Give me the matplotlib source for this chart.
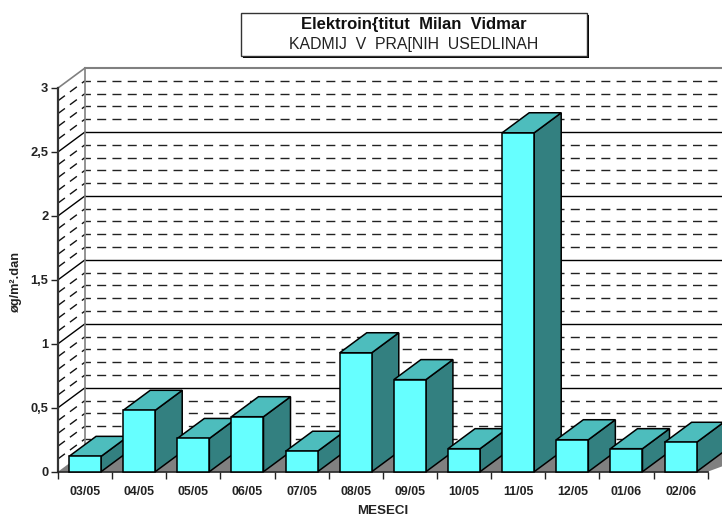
import matplotlib
matplotlib.use("Agg")
import matplotlib.pyplot as plt
from matplotlib.patches import Polygon, Rectangle

months = ["03/05", "04/05", "05/05", "06/05", "07/05", "08/05",
          "09/05", "10/05", "11/05", "12/05", "01/06", "02/06"]
values = [0.12, 0.48, 0.26, 0.43, 0.16, 0.93, 0.72, 0.18, 2.65, 0.25, 0.18, 0.23]
major_ticks = [0, 0.5, 1, 1.5, 2, 2.5, 3]
major_labels = ["0", "0,5", "1", "1,5", "2", "2,5", "3"]
minor_ticks = [0.1, 0.2, 0.3, 0.4, 0.6, 0.7, 0.8, 0.9, 1.1, 1.2, 1.3, 1.4,
               1.6, 1.7, 1.8, 1.9, 2.1, 2.2, 2.3, 2.4, 2.6, 2.7, 2.8, 2.9]

plt.rcParams["font.family"] = ["Liberation Sans", "DejaVu Sans"]

W, H = 722, 517
fig = plt.figure(figsize=(W / 100, H / 100), dpi=100)
ax = fig.add_axes([58 / W, (H - 471.7) / H, 649.7 / W, 383.7 / H])
ax.set_xlim(0, 12)
ax.set_ylim(0, 3)

# depth of the fake 3d box, in data units
dx = 27 / 54.14
dy = 20 / 127.9
bar_w = 32 / 54.14
right = 13  # past the figure edge

ax.patch.set_visible(False)
for s in ["top", "right"]:
    ax.spines[s].set_visible(False)
ax.spines["left"].set_linewidth(1.6)
ax.spines["left"].set_color("#333333")
ax.spines["bottom"].set_linewidth(1.2)
ax.spines["bottom"].set_color("#222222")

# walls
for y in minor_ticks:
    ax.plot([dx, right], [y + dy, y + dy], color="#222222", lw=1, ls=(2.6, (6.5, 4.5)),
            clip_on=False, zorder=1)
    ax.plot([0, dx], [y, y + dy], color="#111111", lw=1, ls=(0, (6.2, 4.5)),
            clip_on=False, zorder=1)
for y in major_ticks[1:-1]:
    ax.plot([dx, right], [y + dy, y + dy], color="black", lw=1,
            clip_on=False, zorder=1.2)
    ax.plot([0, dx], [y, y + dy], color="black", lw=1, clip_on=False, zorder=1.2)
ax.plot([dx, dx], [dy, 3 + dy], color="#808080", lw=1.2, clip_on=False, zorder=1.3)
ax.plot([dx, right], [3 + dy, 3 + dy], color="#808080", lw=1.5, clip_on=False, zorder=1.3)
ax.plot([0, dx], [3, 3 + dy], color="#808080", lw=1.2, clip_on=False, zorder=1.3)

# floor
ax.add_patch(Polygon([(0, 0), (dx, dy), (right, dy), (12, 0)], closed=True,
                     facecolor="#808080", edgecolor="none", clip_on=False, zorder=2))

# bars
for i, v in enumerate(values):
    x0 = i + 0.5 - bar_w / 2
    x1 = x0 + bar_w
    z = 3 + i
    ax.add_patch(Polygon([(x1, 0), (x1 + dx, dy), (x1 + dx, v + dy), (x1, v)], closed=True,
                         facecolor="#338080", edgecolor="black", lw=1.1, clip_on=False, zorder=z))
    ax.add_patch(Polygon([(x0, v), (x0 + dx, v + dy), (x1 + dx, v + dy), (x1, v)], closed=True,
                         facecolor="#4DBDBD", edgecolor="black", lw=1.1, clip_on=False, zorder=z))
    ax.add_patch(Rectangle((x0, 0), bar_w, v, facecolor="#66FFFF", edgecolor="black",
                           lw=1.1, clip_on=False, zorder=z))

ax.set_yticks(major_ticks)
ax.set_yticklabels(major_labels, fontsize=9.3, fontweight="bold", color="#222222")
ax.set_xticks(range(13))
ax.set_xticklabels([])
ax.set_xticks([i + 0.5 for i in range(12)], minor=True)
ax.set_xticklabels(months, minor=True, fontsize=8.9, fontweight="bold", color="#222222")
ax.tick_params(axis="x", which="major", length=5, width=1, color="#222222")
ax.tick_params(axis="x", which="minor", length=0, pad=10)
ax.tick_params(axis="y", length=5, width=1, pad=2, color="#222222")

fig.text(383 / W, 1 - 510.5 / H, "MESECI", fontsize=9.6, fontweight="bold",
         ha="center", va="center", color="#222222")
fig.text(16 / W, 1 - 281 / H, "øg/m².dan", fontsize=9.2, fontweight="bold", rotation=90,
         ha="center", va="center", color="#222222")

# title box with shadow
fig.add_artist(Rectangle((243 / W, 1 - 58 / H), 346 / W, 43 / H, transform=fig.transFigure,
                         facecolor="black", edgecolor="none"))
fig.add_artist(Rectangle((240.5 / W, 1 - 55.5 / H), 346 / W, 43 / H, transform=fig.transFigure,
                         facecolor="white", edgecolor="#333333", lw=1))
fig.text(413.5 / W, 1 - 24 / H, "Elektroin{titut  Milan  Vidmar", fontsize=12,
         fontweight="bold", ha="center", va="center", color="#111111")
fig.text(413.5 / W, 1 - 44.5 / H, "KADMIJ  V  PRA[NIH  USEDLINAH", fontsize=11.4,
         ha="center", va="center", color="#222222")

fig.savefig("out.png", dpi=100)
